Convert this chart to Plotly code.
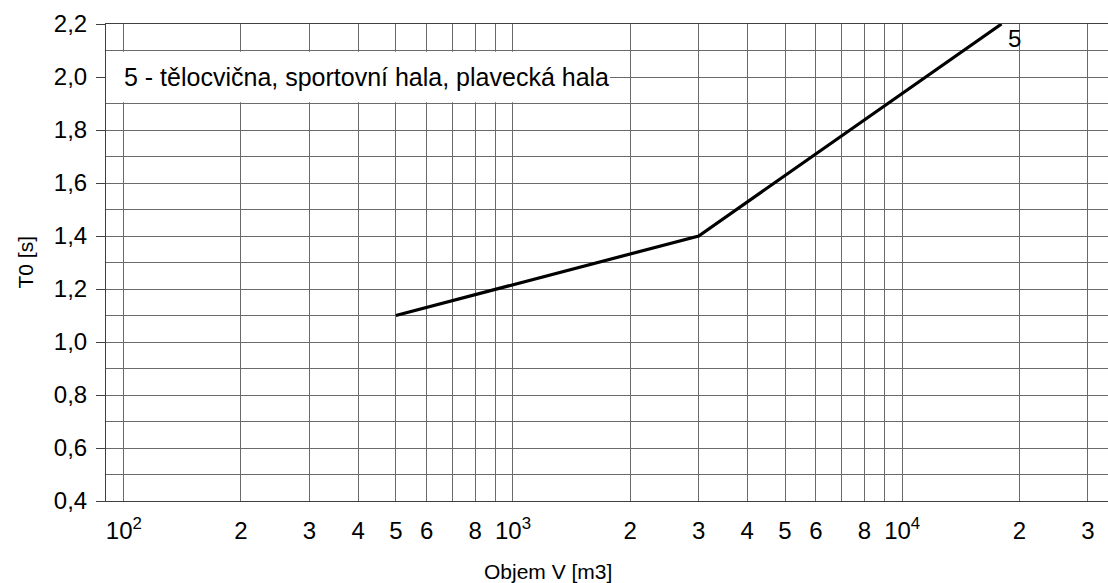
import math
import plotly.graph_objects as go

# Reverberation time curve 5 (gym, sports hall, swimming hall)
volume_m3 = [500, 3000, 18000]
t0_seconds = [1.1, 1.4, 2.2]

# Logarithmic volume axis: gridlines at every 1..9 multiple of each decade
x_grid_values = [100, 200, 300, 400, 500, 600, 700, 800, 900,
                 1000, 2000, 3000, 4000, 5000, 6000, 7000, 8000, 9000,
                 10000, 20000, 30000]
x_grid_labels = ["10<sup>2</sup>", "2", "3", "4", "5", "6", "", "8", "",
                 "10<sup>3</sup>", "2", "3", "4", "5", "6", "", "8", "",
                 "10<sup>4</sup>", "2", "3"]

y_tick_values = [0.4, 0.6, 0.8, 1.0, 1.2, 1.4, 1.6, 1.8, 2.0, 2.2]
y_tick_labels = ["0,4", "0,6", "0,8", "1,0", "1,2", "1,4", "1,6", "1,8", "2,0", "2,2"]

series_label = "5"
legend_text = "5 - tělocvična, sportovní hala, plavecká hala"
x_title = "Objem V [m3]"
y_title = "T0 [s]"

FONT = "Arial, Liberation Sans, sans-serif"
GRID = "#6a6a6a"
AXIS = "#404040"

fig = go.Figure()
fig.add_trace(go.Scatter(
    x=volume_m3, y=t0_seconds, mode="lines",
    line=dict(color="black", width=3.2),
    showlegend=False, hoverinfo="skip",
))

fig.update_layout(
    width=1108, height=583,
    margin=dict(l=106, r=0, t=24, b=82),
    paper_bgcolor="white", plot_bgcolor="white",
    font=dict(family=FONT, size=24, color="black"),
    showlegend=False,
)

fig.update_xaxes(
    type="log",
    range=[math.log10(90), math.log10(33800)],
    tickmode="array", tickvals=x_grid_values, ticktext=x_grid_labels,
    ticks="", ticklabelstandoff=8,
    showgrid=True, gridcolor=GRID, gridwidth=1,
    showline=True, linecolor=AXIS, linewidth=1, mirror=True,
    zeroline=False,
    tickfont=dict(family=FONT, size=24, color="black"),
)

fig.update_yaxes(
    range=[0.4, 2.2],
    tickmode="array", tickvals=y_tick_values, ticktext=y_tick_labels,
    ticks="outside", ticklen=9, tickcolor=AXIS, tickwidth=1,
    ticklabelstandoff=4,
    showgrid=True, gridcolor=GRID, gridwidth=1,
    minor=dict(dtick=0.1, showgrid=True, gridcolor=GRID, gridwidth=1, ticks=""),
    showline=True, linecolor=AXIS, linewidth=1, mirror=False,
    zeroline=False,
    tickfont=dict(family=FONT, size=24, color="black"),
)

# White box behind the curve description
fig.add_shape(
    type="rect", xref="paper", yref="y",
    x0=0.0, x1=0.503, y0=1.905, y1=2.095,
    fillcolor="white", line=dict(width=0), layer="above",
)
fig.add_annotation(
    xref="paper", yref="y", x=0.016, y=2.0,
    xanchor="left", yanchor="middle",
    text=legend_text, showarrow=False,
    font=dict(family=FONT, size=25, color="black"),
)

# Curve label next to the end of the line
fig.add_annotation(
    xref="x", yref="y", x=math.log10(volume_m3[-1]), y=t0_seconds[-1],
    xanchor="left", yanchor="top", xshift=4, yshift=1,
    text=series_label, showarrow=False,
    font=dict(family=FONT, size=24, color="black"),
)

# Axis titles
fig.add_annotation(
    xref="paper", yref="paper", x=0.441, y=0, yshift=-70,
    xanchor="center", yanchor="middle",
    text=x_title, showarrow=False,
    font=dict(family=FONT, size=21, color="black"),
)
fig.add_annotation(
    xref="paper", yref="paper", x=0, y=0.5, xshift=-81,
    xanchor="center", yanchor="middle", textangle=-90,
    text=y_title, showarrow=False,
    font=dict(family=FONT, size=21, color="black"),
)

fig.write_html("out.html")
